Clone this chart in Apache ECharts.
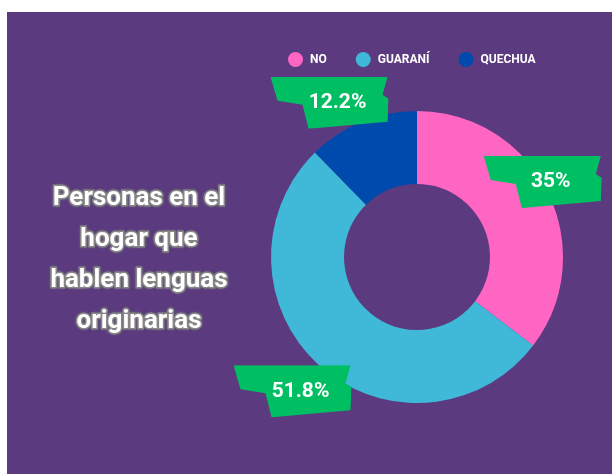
<!DOCTYPE html>
<html>
<head>
    <meta charset="utf-8">
    <title>Lenguas originarias</title>
    <style>
        body { margin: 0; background: #fff; }
        #chart { position: absolute; left: 7px; top: 12px; width: 605px; height: 462px; }
    </style>
</head>
<body>
    <div id="chart"></div>

    <script src="https://cdn.jsdelivr.net/npm/echarts@6/dist/echarts.min.js"></script>
    <script>
        // datos
        var categories = ['NO', 'GUARANÍ', 'QUECHUA'];
        var values = [35, 51.8, 12.2];
        var colors = ['#ff66c4', '#40b8d8', '#004aad'];
        var labelShift = [[25, -25], [-50, 50], [-45, -50]];

        // cinta verde detras de los porcentajes
        var ribbon = "<svg xmlns='http://www.w3.org/2000/svg' width='118' height='52' viewBox='0 0 118 52'>" +
            "<polygon points='0,0 117,0 112,18 118,22 117,45 38,52 32,28 7,24' fill='#00bf63'/></svg>";
        var ribbonUrl = 'data:image/svg+xml;charset=utf-8,' + encodeURIComponent(ribbon);

        var pieData = [];
        categories.forEach(function (name, i) {
            pieData.push({ name: name, value: values[i], itemStyle: { color: colors[i] } });
        });

        var chart = echarts.init(document.getElementById('chart'));
        var option = {
            backgroundColor: '#5b3a7f',
            animation: false,
            title: {
                text: 'Personas en el\nhogar que\nhablen lenguas\noriginarias',
                left: 127,
                top: 161,
                textAlign: 'center',
                textStyle: {
                    fontFamily: 'Roboto',
                    fontWeight: 'bold',
                    fontSize: 26,
                    lineHeight: 41,
                    color: '#fff',
                    textBorderColor: '#8c8c8c',
                    textBorderWidth: 3,
                    textShadowColor: 'rgba(120,120,120,0.7)',
                    textShadowBlur: 3
                }
            },
            legend: {
                left: 276,
                top: 35,
                icon: 'circle',
                itemWidth: 15,
                itemHeight: 15,
                itemGap: 29,
                data: categories,
                textStyle: {
                    color: '#fff',
                    fontFamily: 'Roboto',
                    fontWeight: 'bold',
                    fontSize: 12,
                    padding: [0, 0, 0, 2]
                }
            },
            series: [
                {
                    type: 'pie',
                    center: [410, 245],
                    radius: [73, 146],
                    startAngle: 90,
                    clockwise: true,
                    silent: true,
                    data: pieData,
                    label: {
                        position: 'inside',
                        formatter: '{c}%',
                        color: '#fff',
                        fontFamily: 'Roboto',
                        fontWeight: 'bold',
                        fontSize: 21,
                        width: 82,
                        height: 52,
                        lineHeight: 52,
                        align: 'center',
                        padding: [0, 10, 0, 26],
                        backgroundColor: { image: ribbonUrl }
                    },
                    labelLine: { show: false },
                    labelLayout: function (params) {
                        var s = labelShift[params.dataIndex];
                        return { dx: s[0], dy: s[1] };
                    }
                }
            ]
        };
        chart.setOption(option);
    </script>
</body>
</html>
